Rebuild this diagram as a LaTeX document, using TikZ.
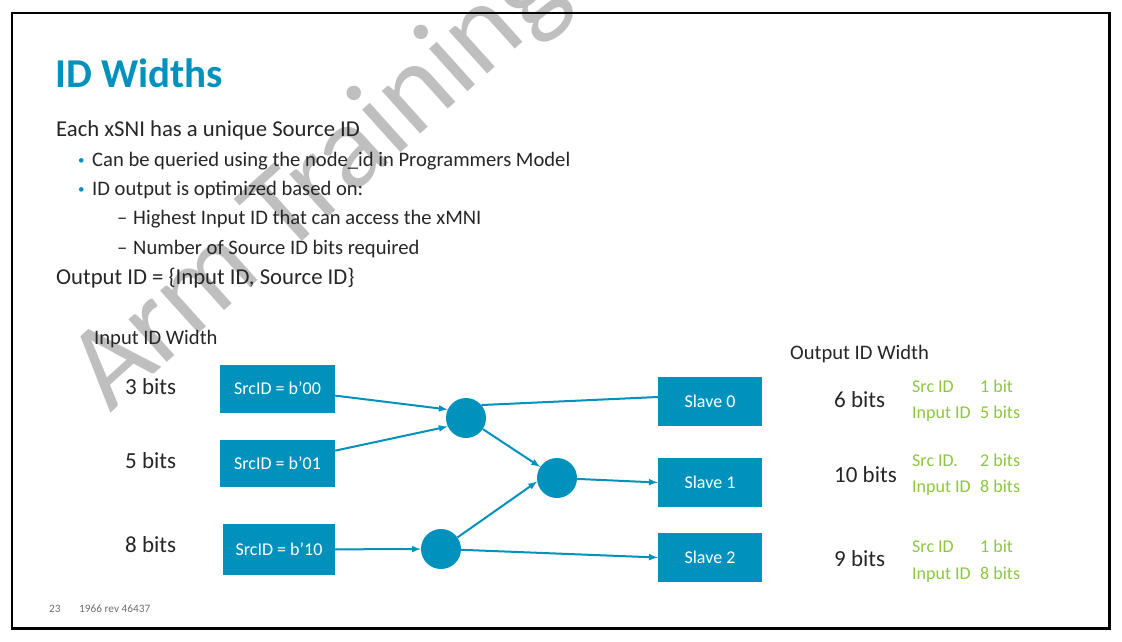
\documentclass[tikz,border=0pt]{standalone}
\usepackage{fontspec}
\setmainfont{Carlito}
\usepackage{tikz}
\pgfdeclarelayer{marklayer}
\pgfdeclarelayer{edgelayer}
\pgfdeclarelayer{nodelayer}
\pgfsetlayers{marklayer,edgelayer,nodelayer,main}
\definecolor{armblue}{RGB}{0,145,189}
\definecolor{armgreen}{RGB}{141,198,63}
\definecolor{inkgray}{RGB}{38,38,38}
\definecolor{footgray}{RGB}{110,110,110}
\definecolor{shade}{RGB}{191,191,191}
\tikzstyle{heading}=[anchor=base west,inner sep=0,text=armblue,font=\fontsize{41}{49}\selectfont\bfseries]
\tikzstyle{body}=[anchor=base west,inner sep=0,text=inkgray,font=\fontsize{22.7}{27}\selectfont]
\tikzstyle{point}=[anchor=base west,inner sep=0,text=inkgray,font=\fontsize{20.6}{24}\selectfont]
\tikzstyle{dot}=[anchor=base west,inner sep=0,text=armblue,font=\fontsize{13}{15}\selectfont]
\tikzstyle{caption}=[anchor=base west,inner sep=0,text=inkgray,font=\fontsize{20.6}{24}\selectfont]
\tikzstyle{bitcount}=[anchor=base west,inner sep=0,text=inkgray,font=\fontsize{23}{27}\selectfont]
\tikzstyle{split}=[anchor=base west,inner sep=0,text=armgreen,font=\fontsize{18}{21}\selectfont]
\tikzstyle{footer}=[anchor=base west,inner sep=0,text=footgray,font=\fontsize{11.3}{13}\selectfont]
\tikzstyle{watermark}=[rotate=42,anchor=base west,inner sep=0,text=shade,font=\fontsize{120}{134}\selectfont]
\tikzstyle{srcbox}=[rectangle,fill=armblue,text=white,minimum width=115pt,minimum height=48pt,inner sep=0,font=\fontsize{18}{22}\selectfont]
\tikzstyle{slavebox}=[rectangle,fill=armblue,text=white,minimum width=104pt,minimum height=49pt,inner sep=0,font=\fontsize{18}{22}\selectfont]
\tikzstyle{router}=[circle,fill=armblue,minimum size=40pt,inner sep=0]
\tikzstyle{link}=[-latex,draw=armblue,line width=2pt]
\tikzstyle{wire}=[draw=armblue,line width=2pt]

\begin{document}
\begin{tikzpicture}[x=1pt,y=-1pt]
	\useasboundingbox (0, 0) rectangle (1122, 641);
	\draw [line width=2.7pt] (12, 13) rectangle (1109.7, 628.7);
	\begin{pgfonlayer}{marklayer}
		\node [style=watermark] (42) at (110, 414) {Arm Training};
	\end{pgfonlayer}
	\begin{pgfonlayer}{nodelayer}
		\node [style=heading] (0) at (55, 87) {ID Widths};
		\node [style=body] (1) at (56, 136) {Each xSNI has a unique Source ID};
		\node [style=dot] (2) at (78, 164) {•};
		\node [style=point] (3) at (92, 166) {Can be queried using the node\_id in Programmers Model};
		\node [style=dot] (4) at (78, 193) {•};
		\node [style=point] (5) at (92, 195) {ID output is optimized based on:};
		\node [style=point] (6) at (117, 224) {–};
		\node [style=point] (7) at (133, 224) {Highest Input ID that can access the xMNI};
		\node [style=point] (8) at (117, 254) {–};
		\node [style=point] (9) at (133, 254) {Number of Source ID bits required};
		\node [style=body] (10) at (56, 284) {Output ID = \{Input ID, Source ID\}};

		\node [style=caption] (11) at (94, 344) {Input ID Width};
		\node [style=bitcount] (12) at (125, 394) {3 bits};
		\node [style=bitcount] (13) at (125, 468) {5 bits};
		\node [style=bitcount] (14) at (125, 552) {8 bits};

		\node [style=srcbox] (15) at (277.5, 388.5) {SrcID = b’00};
		\node [style=srcbox, minimum height=47pt] (16) at (277.5, 463) {SrcID = b’01};
		\node [style=srcbox, minimum width=112pt, minimum height=51pt] (17) at (279, 549.5) {SrcID = b’10};

		\node [style=router] (18) at (466, 418) {};
		\node [style=router] (19) at (557, 478) {};
		\node [style=router] (20) at (441, 549) {};

		\node [style=slavebox] (21) at (710, 401) {Slave 0};
		\node [style=slavebox] (22) at (710, 482.5) {Slave 1};
		\node [style=slavebox] (23) at (710, 557.5) {Slave 2};

		\node [style=caption] (24) at (790, 359) {Output ID Width};
		\node [style=bitcount] (25) at (834, 407) {6 bits};
		\node [style=bitcount] (26) at (834, 482) {10 bits};
		\node [style=bitcount] (27) at (834, 566) {9 bits};

		\node [style=split] (28) at (912, 392) {Src ID};
		\node [style=split] (29) at (980, 392) {1 bit};
		\node [style=split] (30) at (912, 418) {Input ID};
		\node [style=split] (31) at (980, 418) {5 bits};
		\node [style=split] (32) at (912, 466) {Src ID.};
		\node [style=split] (33) at (980, 466) {2 bits};
		\node [style=split] (34) at (912, 492) {Input ID};
		\node [style=split] (35) at (980, 492) {8 bits};
		\node [style=split] (36) at (912, 552) {Src ID};
		\node [style=split] (37) at (980, 552) {1 bit};
		\node [style=split] (38) at (912, 579) {Input ID};
		\node [style=split] (39) at (980, 579) {8 bits};

		\node [style=footer] (40) at (49, 612) {23};
		\node [style=footer] (41) at (79, 612) {1966 rev 46437};
	\end{pgfonlayer}
	\begin{pgfonlayer}{edgelayer}
		\draw [style=link] (15) to (18.155);
		\draw [style=link] (16) to (18.205);
		\draw [style=link] (17) to (20);
		\draw [style=link] (18) to (19);
		\draw [style=link] (20) to (19.190);
		\draw [style=wire] (18.40) to ([yshift=4pt]21.west);
		\draw [style=link] (19) to (22.west);
		\draw [style=link] (20) to (23.west);
	\end{pgfonlayer}
\end{tikzpicture}
\end{document}
